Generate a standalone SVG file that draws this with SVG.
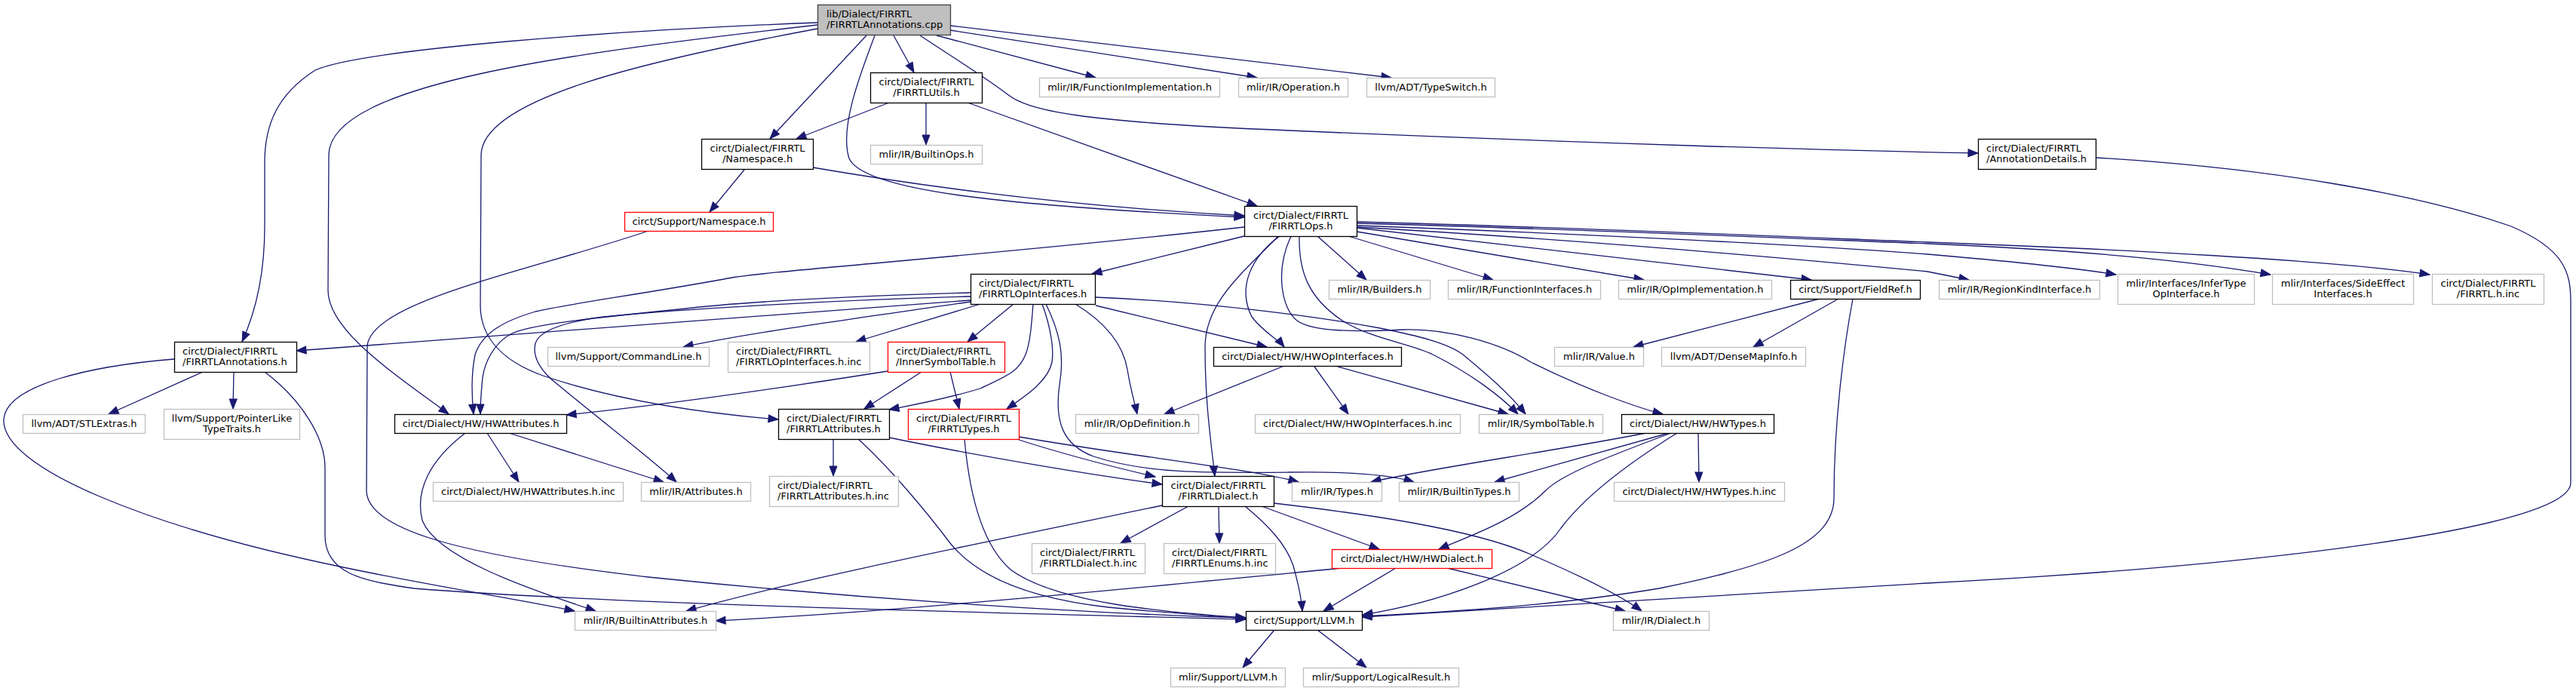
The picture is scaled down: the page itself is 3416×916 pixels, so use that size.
<svg xmlns="http://www.w3.org/2000/svg" width="3416" height="916" viewBox="0 0 3416 916">
<defs>
<marker id="a" markerUnits="userSpaceOnUse" markerWidth="14" markerHeight="12" refX="13" refY="5.5" orient="auto" overflow="visible"><path d="M0,0.5 L13,5.5 L0,10.5 z" fill="#191970" stroke="#191970" stroke-width="1"/></marker>
</defs>
<style>
rect{fill:#fff;stroke:#000;stroke-width:1.3}
rect.g{stroke:#bfbfbf}
rect.r{stroke:#ff0000}
rect.root{fill:#bfbfbf;stroke:#404040}
text{font-family:"DejaVu Sans","Liberation Sans",sans-serif;font-size:13px;fill:#000}
text.c{text-anchor:middle}
#edges path{fill:none;stroke:#191970;stroke-width:1.3;marker-end:url(#a)}
</style>
<rect x="0" y="0" width="3416" height="916" style="fill:#fff;stroke:none"/>
<g id="edges">
<path d="M1084,30 C820,40 480,65 418,93 C368,125 351,165 351,215 L351,300 C351,370 336,420 321,453"/>
<path d="M1084,33 C760,70 438,110 436,205 L435,385 C435,440 530,500 595,549"/>
<path d="M1084,38 C860,80 640,130 638,205 L637,405 C637,450 670,480 720,498 C800,525 900,545 1032,556"/>
<path d="M1149,47 L1021,184"/>
<path d="M1185,47 L1212,96"/>
<path d="M1160,47 C1140,100 1113,170 1126,210 C1145,252 1320,272 1650,288"/>
<path d="M1220,47 C1270,80 1310,105 1336,125 C1362,146 1430,162 1710,173 C2100,190 2450,200 2623,203"/>
<path d="M1242,47 L1453,103"/>
<path d="M1260,40 L1667,103"/>
<path d="M1260,34 L1845,103"/>
<path d="M1179,136 L1056,184"/>
<path d="M1228,136 L1228,192"/>
<path d="M1283,136 L1667,273"/>
<path d="M987,225 L941,281"/>
<path d="M1078,222 C1300,260 1500,278 1650,286"/>
<path d="M860,306 C700,360 488,400 487,460 L486,650 C486,700 600,735 860,765 C1200,800 1500,815 1652,819"/>
<path d="M2779,209 C3000,222 3200,255 3330,300 C3400,330 3409,360 3409,400 L3409,640 C3409,700 3000,750 2556,773 C2200,792 1950,808 1806,818"/>
<path d="M269,493 L144,549"/>
<path d="M310,493 L309,542"/>
<path d="M231,476 C120,485 10,510 5,555 C0,620 200,700 460,753 C580,778 690,795 762,810"/>
<path d="M351,493 C400,530 431,580 431,620 L431,710 C431,760 480,770 549,780 C800,800 1300,812 1652,821"/>
<path d="M1650,313 L1448,363"/>
<path d="M1650,301 C1300,340 1000,360 960,370 C850,390 740,405 710,413 C670,425 640,440 630,470 C624,500 626,530 628,549"/>
<path d="M1695,313 C1650,360 1598,400 1598,460 C1598,530 1605,580 1611,631"/>
<path d="M1697,313 C1660,340 1640,380 1660,420 C1675,440 1695,450 1703,460"/>
<path d="M1723,313 C1722,360 1735,395 1780,425 C1820,450 1870,455 1900,470 C1950,495 1990,525 2013,549"/>
<path d="M1712,313 C1690,360 1700,410 1720,425 C1740,440 1800,440 1860,437 C1920,435 1990,455 2030,480 C2100,515 2170,540 2205,549"/>
<path d="M1747,313 L1812,371"/>
<path d="M1788,313 L1980,371"/>
<path d="M1799,307 L2180,371"/>
<path d="M1799,302 L2402,371"/>
<path d="M1799,301 C2100,318 2400,345 2556,360 L2611,371"/>
<path d="M1799,299 C2100,310 2400,325 2556,337 C2650,345 2750,355 2806,364"/>
<path d="M1799,296 C2100,304 2400,317 2556,323 C2750,331 2900,345 3011,364"/>
<path d="M1799,294 C2100,302 2400,315 2556,321 C2800,330 3100,345 3222,364"/>
<path d="M1287,388 C1150,392 1000,398 900,410 C800,420 700,430 677,443 C655,455 643,480 640,500 C638,520 637,535 637,549"/>
<path d="M1287,393 C1100,398 900,410 800,420 C740,428 715,440 710,455 C705,475 720,495 740,510 C800,560 860,605 897,639"/>
<path d="M1287,398 C1000,420 700,440 393,465"/>
<path d="M1287,400 C1150,420 1000,440 906,460"/>
<path d="M1300,403 L1135,453"/>
<path d="M1344,403 L1283,453"/>
<path d="M1370,403 C1368,430 1366,455 1360,470 C1350,495 1330,500 1300,515 C1250,530 1210,537 1179,543"/>
<path d="M1382,403 C1392,430 1398,460 1395,480 C1390,505 1360,525 1335,542"/>
<path d="M1387,403 C1405,440 1412,470 1405,510 C1398,560 1410,590 1450,605 C1520,628 1600,627 1710,626 C1780,625 1840,628 1875,639"/>
<path d="M1426,403 C1470,430 1490,460 1495,490 C1500,520 1505,535 1508,549"/>
<path d="M1453,405 L1680,460"/>
<path d="M1452,394 C1600,400 1750,420 1830,435 C1880,445 1920,455 1940,470 C1970,495 2000,520 2023,549"/>
<path d="M1351,583 C1420,605 1480,620 1532,632"/>
<path d="M1351,579 C1500,605 1650,620 1722,639"/>
<path d="M1279,582 C1285,650 1300,720 1340,755 C1400,800 1550,812 1652,819"/>
<path d="M1222,493 L1146,542"/>
<path d="M1260,493 L1272,542"/>
<path d="M1177,492 C1000,520 850,540 751,550"/>
<path d="M1105,582 L1105,631"/>
<path d="M1179,580 C1300,605 1450,630 1541,642"/>
<path d="M1138,582 C1180,620 1230,680 1260,720 C1300,770 1380,795 1470,805 C1550,813 1620,817 1652,820"/>
<path d="M646,574 L688,639"/>
<path d="M675,574 L880,639"/>
<path d="M617,574 C570,610 550,650 560,690 C580,740 700,780 790,810"/>
<path d="M1576,671 L1486,720"/>
<path d="M1616,671 L1617,720"/>
<path d="M1541,670 C1300,720 1050,770 910,810"/>
<path d="M1651,671 C1680,695 1705,720 1715,750 C1722,775 1726,795 1727,810"/>
<path d="M1673,671 L1829,728"/>
<path d="M1689,667 C1800,680 1950,700 2030,735 C2100,765 2150,790 2177,810"/>
<path d="M1690,835 L1648,885"/>
<path d="M1747,835 L1812,885"/>
<path d="M1703,485 L1544,549"/>
<path d="M1743,486 L1788,549"/>
<path d="M1774,486 L2000,549"/>
<path d="M2183,574 C2050,600 1900,620 1818,639"/>
<path d="M2213,574 L1982,639"/>
<path d="M2252,574 L2253,639"/>
<path d="M2216,574 C2120,610 2070,630 2050,650 C2010,690 1950,710 1908,728"/>
<path d="M2224,574 C2150,620 2100,660 2070,700 C2030,760 1900,800 1807,815"/>
<path d="M1851,753 L1755,810"/>
<path d="M1919,753 L2155,810"/>
<path d="M1780,753 C1500,780 1200,810 949,823"/>
<path d="M2413,396 L2166,460"/>
<path d="M2438,396 L2325,460"/>
<path d="M2457,396 C2445,460 2432,560 2432,660 C2432,720 2350,750 2200,780 C2050,805 1900,812 1806,817"/>
</g>
<g id="n0"><rect class="root" x="1084.5" y="6.5" width="176" height="40"/><text x="1096" y="22.5">lib/Dialect/FIRRTL</text><text x="1096" y="37">/FIRRTLAnnotations.cpp</text></g>
<g id="n1"><rect x="231.5" y="453.5" width="162" height="40"/><text x="242" y="469.5">circt/Dialect/FIRRTL</text><text x="242" y="484">/FIRRTLAnnotations.h</text></g>
<g id="n2"><rect x="523.5" y="549.5" width="228" height="25"/><text class="c" x="637.5" y="566">circt/Dialect/HW/HWAttributes.h</text></g>
<g id="n3"><rect x="1032.5" y="542.5" width="147" height="40"/><text x="1043" y="558.5">circt/Dialect/FIRRTL</text><text x="1043" y="573">/FIRRTLAttributes.h</text></g>
<g id="n4"><rect x="930.5" y="184.5" width="148" height="40"/><text class="c" x="1004.5" y="200.5">circt/Dialect/FIRRTL</text><text class="c" x="1004.5" y="215">/Namespace.h</text></g>
<g id="n5"><rect x="1154.5" y="96.5" width="148" height="40"/><text class="c" x="1228.5" y="112.5">circt/Dialect/FIRRTL</text><text class="c" x="1228.5" y="127">/FIRRTLUtils.h</text></g>
<g id="n6"><rect x="1650.5" y="273.5" width="149" height="40"/><text class="c" x="1725" y="289.5">circt/Dialect/FIRRTL</text><text class="c" x="1725" y="304">/FIRRTLOps.h</text></g>
<g id="n7"><rect x="2623.5" y="184.5" width="156" height="40"/><text x="2634" y="200.5">circt/Dialect/FIRRTL</text><text x="2634" y="215">/AnnotationDetails.h</text></g>
<g id="n8"><rect class="g" x="1378.5" y="103.5" width="239" height="25"/><text class="c" x="1498" y="120">mlir/IR/FunctionImplementation.h</text></g>
<g id="n9"><rect class="g" x="1642.5" y="103.5" width="145" height="25"/><text class="c" x="1715" y="120">mlir/IR/Operation.h</text></g>
<g id="n10"><rect class="g" x="1812.5" y="103.5" width="170" height="25"/><text class="c" x="1897.5" y="120">llvm/ADT/TypeSwitch.h</text></g>
<g id="n11"><rect class="g" x="1154.5" y="192.5" width="148" height="25"/><text class="c" x="1228.5" y="209">mlir/IR/BuiltinOps.h</text></g>
<g id="n12"><rect class="r" x="828.5" y="281.5" width="197" height="25"/><text class="c" x="927" y="298">circt/Support/Namespace.h</text></g>
<g id="n13"><rect x="1287.5" y="363.5" width="165" height="40"/><text x="1298" y="379.5">circt/Dialect/FIRRTL</text><text x="1298" y="394">/FIRRTLOpInterfaces.h</text></g>
<g id="n14"><rect class="g" x="1762.5" y="371.5" width="134" height="25"/><text class="c" x="1829.5" y="388">mlir/IR/Builders.h</text></g>
<g id="n15"><rect class="g" x="1920.5" y="371.5" width="202" height="25"/><text class="c" x="2021.5" y="388">mlir/IR/FunctionInterfaces.h</text></g>
<g id="n16"><rect class="g" x="2146.5" y="371.5" width="203" height="25"/><text class="c" x="2248" y="388">mlir/IR/OpImplementation.h</text></g>
<g id="n17"><rect x="2374.5" y="371.5" width="172" height="25"/><text class="c" x="2460.5" y="388">circt/Support/FieldRef.h</text></g>
<g id="n18"><rect class="g" x="2571.5" y="371.5" width="213" height="25"/><text class="c" x="2678" y="388">mlir/IR/RegionKindInterface.h</text></g>
<g id="n19"><rect class="g" x="2808.5" y="363.5" width="181" height="40"/><text class="c" x="2899" y="379.5">mlir/Interfaces/InferType</text><text class="c" x="2899" y="394">OpInterface.h</text></g>
<g id="n20"><rect class="g" x="3013.5" y="363.5" width="187" height="40"/><text class="c" x="3107" y="379.5">mlir/Interfaces/SideEffect</text><text class="c" x="3107" y="394">Interfaces.h</text></g>
<g id="n21"><rect class="g" x="3225.5" y="363.5" width="148" height="40"/><text class="c" x="3299.5" y="379.5">circt/Dialect/FIRRTL</text><text class="c" x="3299.5" y="394">/FIRRTL.h.inc</text></g>
<g id="n22"><rect class="g" x="30.5" y="549.5" width="162" height="25"/><text class="c" x="111.5" y="566">llvm/ADT/STLExtras.h</text></g>
<g id="n23"><rect class="g" x="217.5" y="542.5" width="180" height="40"/><text class="c" x="307.5" y="558.5">llvm/Support/PointerLike</text><text class="c" x="307.5" y="573">TypeTraits.h</text></g>
<g id="n24"><rect class="g" x="574.5" y="639.5" width="252" height="25"/><text class="c" x="700.5" y="656">circt/Dialect/HW/HWAttributes.h.inc</text></g>
<g id="n25"><rect class="g" x="762.5" y="810.5" width="187" height="25"/><text class="c" x="856" y="827">mlir/IR/BuiltinAttributes.h</text></g>
<g id="n26"><rect class="g" x="726.5" y="460.5" width="214" height="25"/><text class="c" x="833.5" y="477">llvm/Support/CommandLine.h</text></g>
<g id="n27"><rect class="g" x="965.5" y="453.5" width="188" height="40"/><text x="976" y="469.5">circt/Dialect/FIRRTL</text><text x="976" y="484">/FIRRTLOpInterfaces.h.inc</text></g>
<g id="n28"><rect class="r" x="1177.5" y="453.5" width="155" height="40"/><text x="1188" y="469.5">circt/Dialect/FIRRTL</text><text x="1188" y="484">/InnerSymbolTable.h</text></g>
<g id="n29"><rect x="1609.5" y="460.5" width="249" height="25"/><text class="c" x="1734" y="477">circt/Dialect/HW/HWOpInterfaces.h</text></g>
<g id="n30"><rect class="r" x="1204.5" y="542.5" width="147" height="40"/><text class="c" x="1278" y="558.5">circt/Dialect/FIRRTL</text><text class="c" x="1278" y="573">/FIRRTLTypes.h</text></g>
<g id="n31"><rect class="g" x="1426.5" y="549.5" width="163" height="25"/><text class="c" x="1508" y="566">mlir/IR/OpDefinition.h</text></g>
<g id="n32"><rect class="g" x="1664.5" y="549.5" width="272" height="25"/><text class="c" x="1800.5" y="566">circt/Dialect/HW/HWOpInterfaces.h.inc</text></g>
<g id="n33"><rect class="g" x="850.5" y="639.5" width="145" height="25"/><text class="c" x="923" y="656">mlir/IR/Attributes.h</text></g>
<g id="n34"><rect class="g" x="1020.5" y="631.5" width="171" height="40"/><text x="1031" y="647.5">circt/Dialect/FIRRTL</text><text x="1031" y="662">/FIRRTLAttributes.h.inc</text></g>
<g id="n35"><rect x="1541.5" y="631.5" width="148" height="40"/><text class="c" x="1615.5" y="647.5">circt/Dialect/FIRRTL</text><text class="c" x="1615.5" y="662">/FIRRTLDialect.h</text></g>
<g id="n36"><rect class="g" x="1368.5" y="720.5" width="150" height="40"/><text x="1379" y="736.5">circt/Dialect/FIRRTL</text><text x="1379" y="751">/FIRRTLDialect.h.inc</text></g>
<g id="n37"><rect class="g" x="1543.5" y="720.5" width="148" height="40"/><text x="1554" y="736.5">circt/Dialect/FIRRTL</text><text x="1554" y="751">/FIRRTLEnums.h.inc</text></g>
<g id="n38"><rect x="1652.5" y="810.5" width="154" height="25"/><text class="c" x="1729.5" y="827">circt/Support/LLVM.h</text></g>
<g id="n39"><rect class="g" x="1552.5" y="885.5" width="152" height="25"/><text class="c" x="1628.5" y="902">mlir/Support/LLVM.h</text></g>
<g id="n40"><rect class="g" x="1961.5" y="549.5" width="164" height="25"/><text class="c" x="2043.5" y="566">mlir/IR/SymbolTable.h</text></g>
<g id="n41"><rect x="2150.5" y="549.5" width="202" height="25"/><text class="c" x="2251.5" y="566">circt/Dialect/HW/HWTypes.h</text></g>
<g id="n42"><rect class="g" x="2061.5" y="460.5" width="118" height="25"/><text class="c" x="2120.5" y="477">mlir/IR/Value.h</text></g>
<g id="n43"><rect class="g" x="2203.5" y="460.5" width="191" height="25"/><text class="c" x="2299" y="477">llvm/ADT/DenseMapInfo.h</text></g>
<g id="n44"><rect class="g" x="1713.5" y="639.5" width="119" height="25"/><text class="c" x="1773" y="656">mlir/IR/Types.h</text></g>
<g id="n45"><rect class="g" x="1855.5" y="639.5" width="159" height="25"/><text class="c" x="1935" y="656">mlir/IR/BuiltinTypes.h</text></g>
<g id="n46"><rect class="g" x="2140.5" y="639.5" width="226" height="25"/><text class="c" x="2253.5" y="656">circt/Dialect/HW/HWTypes.h.inc</text></g>
<g id="n47"><rect class="r" x="1766.5" y="728.5" width="212" height="25"/><text class="c" x="1872.5" y="745">circt/Dialect/HW/HWDialect.h</text></g>
<g id="n48"><rect class="g" x="2139.5" y="810.5" width="127" height="25"/><text class="c" x="2203" y="827">mlir/IR/Dialect.h</text></g>
<g id="n49"><rect class="g" x="1728.5" y="885.5" width="206" height="25"/><text class="c" x="1831.5" y="902">mlir/Support/LogicalResult.h</text></g>
</svg>
